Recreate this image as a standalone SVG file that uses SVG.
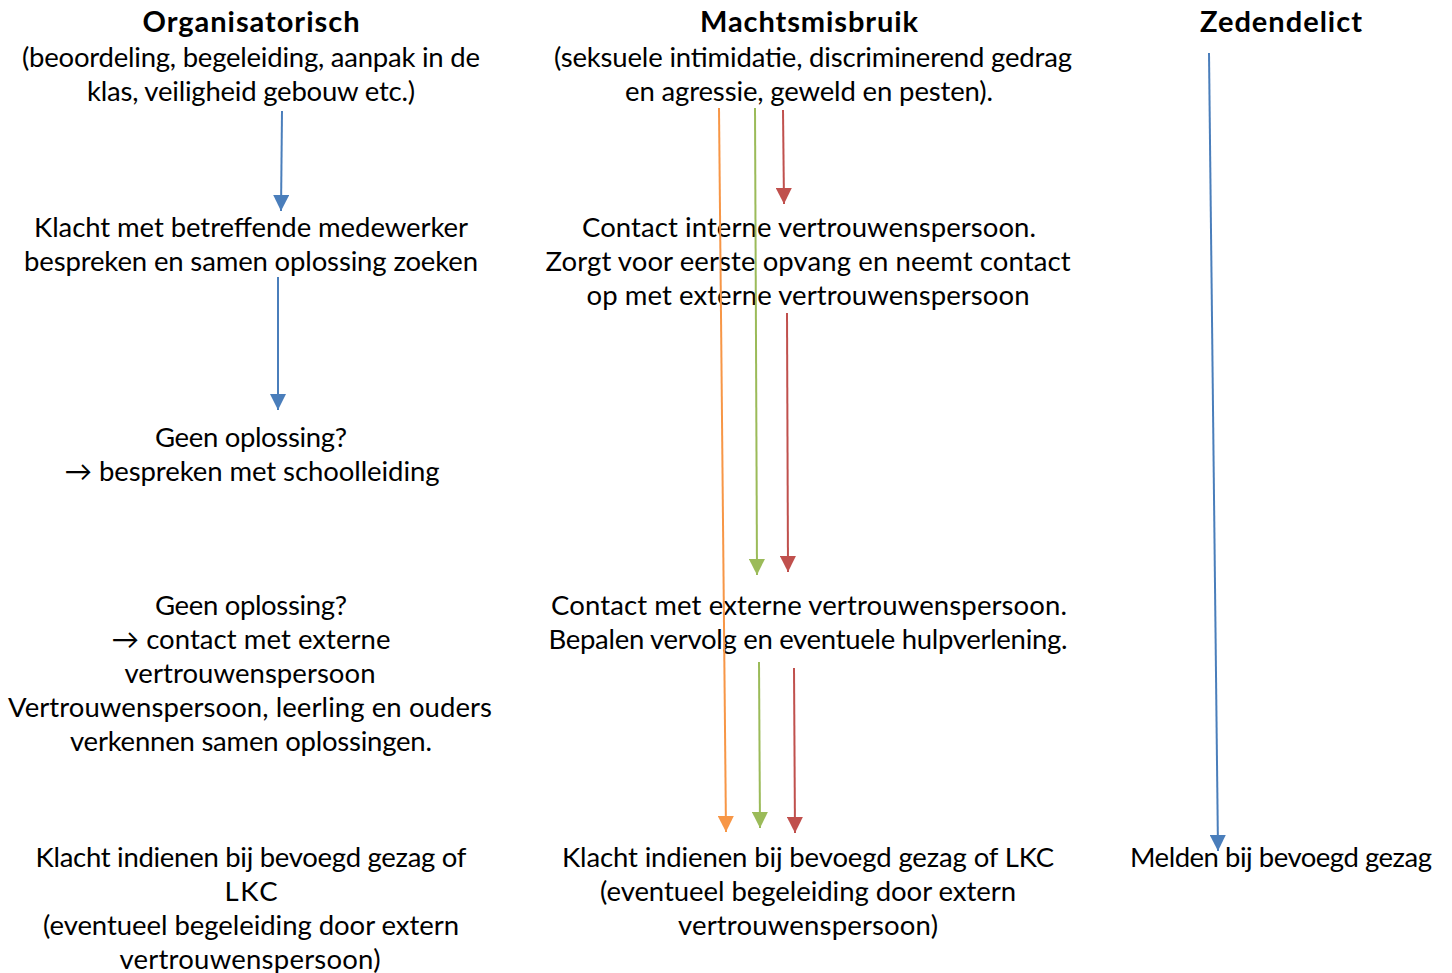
<svg xmlns="http://www.w3.org/2000/svg" width="1452" height="973" viewBox="0 0 1452 973">
<defs>
<style>
text{font-family:Lato,"Open Sans","Liberation Sans",sans-serif;font-size:27.5px;fill:#000;text-anchor:middle}
.h{font-weight:bold;font-size:29px}
.c line{stroke-width:2;fill:none}
.b{stroke:#4A7EBB}.o{stroke:#F79646}.g{stroke:#9BBB59}.r{stroke:#C0504D}
</style>
<marker id="ab" viewBox="0 0 10 10" refX="10" refY="5" markerWidth="16" markerHeight="16" markerUnits="userSpaceOnUse" orient="auto"><path d="M0,0L10,5L0,10z" fill="#4A7EBB"/></marker>
<marker id="ao" viewBox="0 0 10 10" refX="10" refY="5" markerWidth="16" markerHeight="16" markerUnits="userSpaceOnUse" orient="auto"><path d="M0,0L10,5L0,10z" fill="#F79646"/></marker>
<marker id="ag" viewBox="0 0 10 10" refX="10" refY="5" markerWidth="16" markerHeight="16" markerUnits="userSpaceOnUse" orient="auto"><path d="M0,0L10,5L0,10z" fill="#9BBB59"/></marker>
<marker id="ar" viewBox="0 0 10 10" refX="10" refY="5" markerWidth="16" markerHeight="16" markerUnits="userSpaceOnUse" orient="auto"><path d="M0,0L10,5L0,10z" fill="#C0504D"/></marker>
</defs>
<rect width="1452" height="973" fill="#fff"/>
<g id="n-organisatorisch">
<text x="251" y="32" class="h" textLength="217">Organisatorisch</text>
<text x="251" y="67" textLength="458">(beoordeling, begeleiding, aanpak in de</text>
<text x="251" y="101" textLength="328">klas, veiligheid gebouw etc.)</text>
</g>
<g id="n-klacht-medewerker">
<text x="251" y="237" textLength="434">Klacht met betreffende medewerker</text>
<text x="251" y="271" textLength="454">bespreken en samen oplossing zoeken</text>
</g>
<g id="n-schoolleiding">
<text x="251" y="447" textLength="192">Geen oplossing?</text>
<text x="252" y="481" textLength="375">→ bespreken met schoolleiding</text>
</g>
<g id="n-externe-vp-org">
<text x="251" y="615" textLength="192">Geen oplossing?</text>
<text x="251" y="649" textLength="279">→ contact met externe</text>
<text x="250" y="683" textLength="251">vertrouwenspersoon</text>
<text x="250" y="717" textLength="484">Vertrouwenspersoon, leerling en ouders</text>
<text x="251" y="751" textLength="362">verkennen samen oplossingen.</text>
</g>
<g id="n-klacht-org">
<text x="251" y="867" textLength="431">Klacht indienen bij bevoegd gezag of</text>
<text x="251" y="901" textLength="53">LKC</text>
<text x="251" y="935" textLength="416">(eventueel begeleiding door extern</text>
<text x="250" y="969" textLength="261">vertrouwenspersoon)</text>
</g>
<g id="n-machtsmisbruik">
<text x="809" y="32" class="h" textLength="218">Machtsmisbruik</text>
<text x="813" y="67" textLength="518">(seksuele intimidatie, discriminerend gedrag</text>
<text x="809" y="101" textLength="368">en agressie, geweld en pesten).</text>
</g>
<g id="n-interne-vp">
<text x="809" y="237" textLength="454">Contact interne vertrouwenspersoon.</text>
<text x="808" y="271" textLength="525">Zorgt voor eerste opvang en neemt contact</text>
<text x="808" y="305" textLength="443">op met externe vertrouwenspersoon</text>
</g>
<g id="n-externe-vp">
<text x="809" y="615" textLength="516">Contact met externe vertrouwenspersoon.</text>
<text x="808" y="649" textLength="519">Bepalen vervolg en eventuele hulpverlening.</text>
</g>
<g id="n-klacht-macht">
<text x="808" y="867" textLength="492">Klacht indienen bij bevoegd gezag of LKC</text>
<text x="808" y="901" textLength="416">(eventueel begeleiding door extern</text>
<text x="808" y="935" textLength="260">vertrouwenspersoon)</text>
</g>
<g id="n-zedendelict">
<text x="1281" y="32" class="h" textLength="162">Zedendelict</text>
</g>
<g id="n-melden">
<text x="1281" y="867" textLength="302">Melden bij bevoegd gezag</text>
</g>
<g id="connectors" class="c">
<line class="b" x1="282" y1="111" x2="281" y2="211" marker-end="url(#ab)"/>
<line class="b" x1="278" y1="277" x2="278" y2="410" marker-end="url(#ab)"/>
<line class="b" x1="1209" y1="53" x2="1218" y2="851" marker-end="url(#ab)"/>
<line class="o" x1="719" y1="108" x2="726" y2="832" marker-end="url(#ao)"/>
<line class="g" x1="755" y1="108" x2="757" y2="575" marker-end="url(#ag)"/>
<line class="r" x1="783" y1="110" x2="784" y2="204" marker-end="url(#ar)"/>
<line class="r" x1="787" y1="313" x2="788" y2="572" marker-end="url(#ar)"/>
<line class="g" x1="759" y1="662" x2="760" y2="828" marker-end="url(#ag)"/>
<line class="r" x1="794" y1="668" x2="795" y2="833" marker-end="url(#ar)"/>
</g>
</svg>
